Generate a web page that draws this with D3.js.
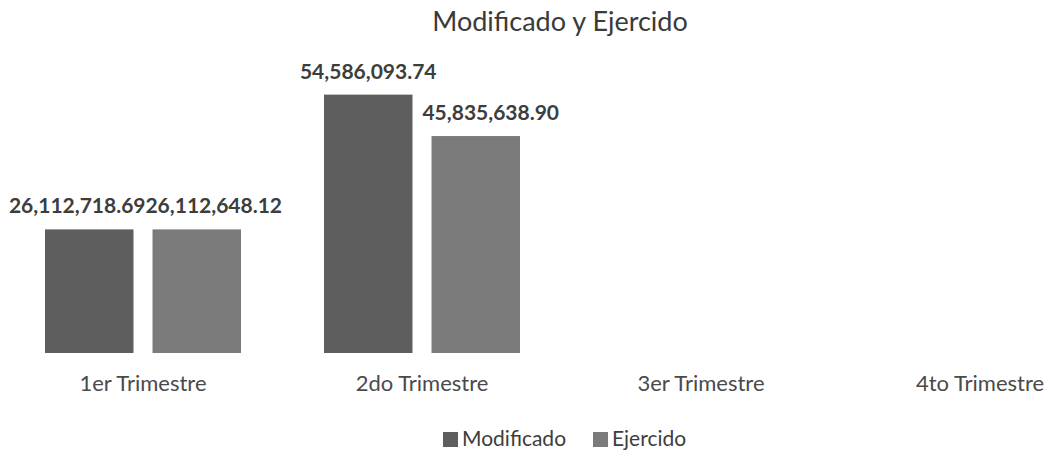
<!DOCTYPE html>
<html>
<head>
<meta charset="utf-8">
<script src="https://cdn.jsdelivr.net/npm/d3@7"></script>
<style>
  body { margin: 0; background: #fff; }
  svg { display: block; font-family: Lato, "Open Sans", sans-serif; }
</style>
</head>
<body>
<svg id="chart" width="1050" height="457"></svg>
<script>
// data
const categories = ["1er Trimestre", "2do Trimestre", "3er Trimestre", "4to Trimestre"];
const seriesNames = ["Modificado", "Ejercido"];
const modificado = [26112718.69, 54586093.74, null, null];
const ejercido = [26112648.12, 45835638.90, null, null];

const colors = { Modificado: "#5e5e5e", Ejercido: "#7b7b7b" };
// label nudges (the original had its overlapping labels pushed apart)
const labelDx = { Modificado: [-12, 0], Ejercido: [17, 15] };

const svg = d3.select("#chart");

const x = d3.scaleBand().domain(categories).range([3.5, 1119.5]).paddingInner(0).paddingOuter(0);
const xs = d3.scaleBand().domain(seriesNames).range([0, x.bandwidth()]).paddingInner(0.177).paddingOuter(0.386);
const y = d3.scaleLinear().domain([0, 60000000]).range([353, 69]);

const rows = categories.map((c, i) => ({ cat: c, i, Modificado: modificado[i], Ejercido: ejercido[i] }));

// title
svg.append("text")
  .attr("x", 560).attr("y", 31)
  .attr("text-anchor", "middle")
  .attr("font-size", 27)
  .attr("fill", "#3a3a3a")
  .text("Modificado y Ejercido");

const groups = svg.selectAll(".grp")
  .data(rows)
  .enter().append("g")
  .attr("class", "grp")
  .attr("transform", d => `translate(${x(d.cat)},0)`);

seriesNames.forEach(s => {
  const g = groups.filter(d => d[s] != null);
  g.append("rect")
    .attr("x", xs(s))
    .attr("width", xs.bandwidth())
    .attr("y", d => y(d[s]))
    .attr("height", d => y(0) - y(d[s]))
    .attr("fill", colors[s]);
  g.append("text")
    .attr("x", d => xs(s) + xs.bandwidth() / 2 + labelDx[s][d.i])
    .attr("y", d => y(d[s]) - 16)
    .attr("text-anchor", "middle")
    .attr("font-size", 21)
    .attr("font-weight", "bold")
    .attr("fill", "#3d3d3d")
    .text(d => d3.format(",.2f")(d[s]));
});

// category axis labels
const xAxis = d3.axisBottom(x).tickSize(0).tickPadding(0);
const ax = svg.append("g").attr("transform", "translate(0,375)").call(xAxis);
ax.select(".domain").remove();
ax.selectAll("text")
  .attr("font-size", 22)
  .attr("font-family", "Lato, 'Open Sans', sans-serif")
  .attr("fill", "#4a4a4a");

// legend
const legend = svg.append("g").attr("transform", "translate(443,446)");
const legX = [0, 150];
seriesNames.forEach((s, i) => {
  const lg = legend.append("g").attr("transform", `translate(${legX[i]},0)`);
  lg.append("rect").attr("x", 0).attr("y", -14).attr("width", 15).attr("height", 15).attr("fill", colors[s]);
  lg.append("text").attr("x", 19).attr("y", 0)
    .attr("font-size", 21).attr("fill", "#3d3d3d").text(s);
});
</script>
</body>
</html>
